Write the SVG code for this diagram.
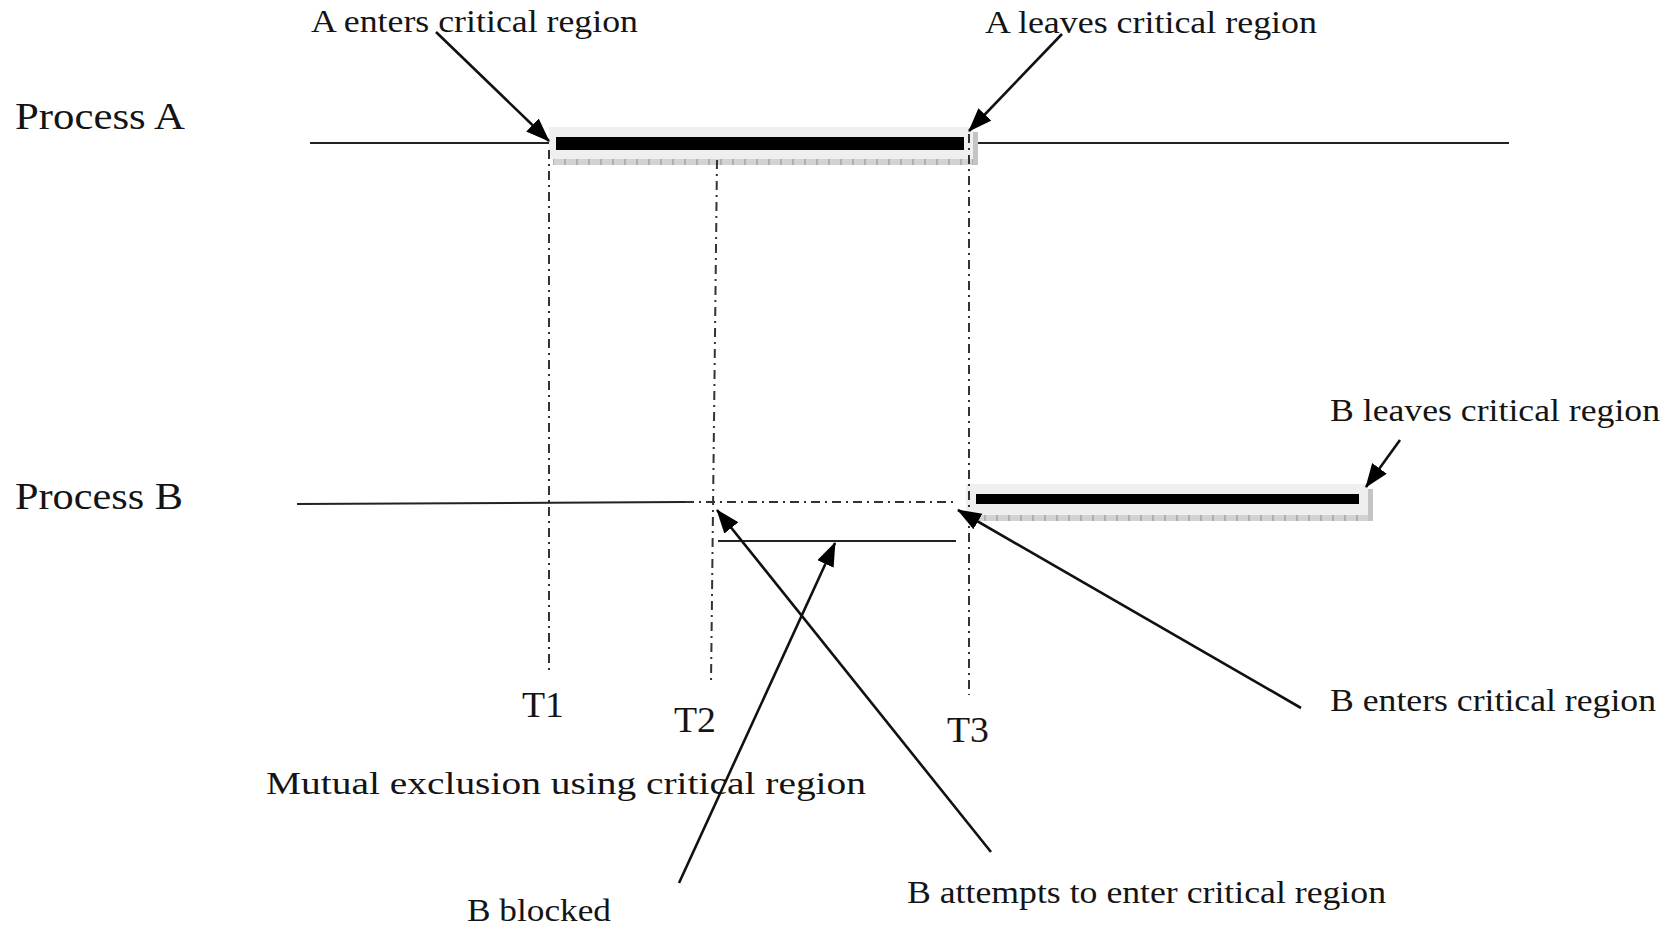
<svg xmlns="http://www.w3.org/2000/svg" width="1676" height="927" viewBox="0 0 1676 927">
  <style>
    text { font-family: "Liberation Serif", "Times New Roman", serif; fill: #141414; }
    .lbl { font-size: 31px; }
    .proc { font-size: 38px; }
    .tick { font-size: 35px; }
    .axis { stroke: #222; stroke-width: 2; fill: none; }
    .guide { stroke: #333; stroke-width: 2; fill: none; stroke-dasharray: 9 5 2 5; }
    .arrow { stroke: #111; stroke-width: 2.6; fill: none; marker-end: url(#head); }
    .panel { fill: #efefef; }
    .shade { fill: url(#hatch); }
    .bar { fill: #000; }
  </style>
  <defs>
    <marker id="head" markerUnits="userSpaceOnUse" markerWidth="26" markerHeight="20" refX="23" refY="9" orient="auto">
      <path d="M0,0 L24,9 L0,18 Z" fill="#000"/>
    </marker>
    <pattern id="hatch" patternUnits="userSpaceOnUse" width="12" height="12">
      <rect width="12" height="12" fill="#d2d2d2"/>
      <rect x="0" y="0" width="2" height="12" fill="#b0b0b0"/>
    </pattern>
  </defs>

  <!-- timelines -->
  <g id="timeline-a">
    <line class="axis" x1="310" y1="143" x2="549" y2="143"/>
    <line class="axis" x1="966" y1="143" x2="1509" y2="143"/>
    <text class="proc" x="15" y="129" textLength="170" lengthAdjust="spacingAndGlyphs">Process A</text>
  </g>
  <g id="timeline-b">
    <line class="axis" x1="297" y1="504" x2="685" y2="502"/>
    <line class="guide" x1="685" y1="502" x2="958" y2="502"/>
    <line class="axis" x1="718" y1="541" x2="956" y2="541"/>
    <text class="proc" x="15" y="509" textLength="168" lengthAdjust="spacingAndGlyphs">Process B</text>
  </g>

  <!-- critical region of A -->
  <g id="region-a">
    <rect class="panel" x="549" y="127" width="424" height="32"/>
    <rect class="shade" x="553" y="159" width="425" height="6"/>
    <rect fill="#c4c4c4" x="973" y="132" width="5" height="33"/>
    <rect class="bar" x="556" y="137" width="408" height="13"/>
  </g>

  <!-- critical region of B -->
  <g id="region-b">
    <rect class="panel" x="966" y="484" width="402" height="32"/>
    <rect class="shade" x="970" y="515" width="403" height="6"/>
    <rect fill="#c4c4c4" x="1368" y="489" width="5" height="32"/>
    <rect class="bar" x="976" y="494" width="383" height="10"/>
  </g>

  <!-- time markers -->
  <g id="t1">
    <line class="guide" x1="549" y1="150" x2="549" y2="675"/>
    <text class="tick" x="522" y="717" textLength="42" lengthAdjust="spacingAndGlyphs">T1</text>
  </g>
  <g id="t2">
    <line class="guide" x1="717" y1="160" x2="711" y2="684"/>
    <text class="tick" x="674" y="732" textLength="42" lengthAdjust="spacingAndGlyphs">T2</text>
  </g>
  <g id="t3">
    <line class="guide" x1="969" y1="134" x2="969" y2="695"/>
    <text class="tick" x="947" y="742" textLength="42" lengthAdjust="spacingAndGlyphs">T3</text>
  </g>

  <!-- event labels -->
  <g id="a-enters"><text class="lbl" x="311" y="32" textLength="327" lengthAdjust="spacingAndGlyphs">A enters critical region</text></g>
  <g id="a-leaves"><text class="lbl" x="985" y="33" textLength="332" lengthAdjust="spacingAndGlyphs">A leaves critical region</text></g>
  <g id="b-leaves"><text class="lbl" x="1330" y="421" textLength="330" lengthAdjust="spacingAndGlyphs">B leaves critical region</text></g>
  <g id="b-enters"><text class="lbl" x="1330" y="711" textLength="326" lengthAdjust="spacingAndGlyphs">B enters critical region</text></g>
  <g id="b-attempts"><text class="lbl" x="907" y="903" textLength="479" lengthAdjust="spacingAndGlyphs">B attempts to enter critical region</text></g>
  <g id="b-blocked"><text class="lbl" x="467" y="921" textLength="144" lengthAdjust="spacingAndGlyphs">B blocked</text></g>
  <g id="caption"><text class="lbl" x="266" y="794" textLength="600" lengthAdjust="spacingAndGlyphs">Mutual exclusion using critical region</text></g>

  <!-- connectors -->
  <g id="connectors">
    <line class="arrow" x1="436" y1="32" x2="549" y2="141"/>
    <line class="arrow" x1="1062" y1="34" x2="969" y2="131"/>
    <line class="arrow" x1="1400" y1="440" x2="1366" y2="487"/>
    <line class="arrow" x1="1301" y1="708" x2="958" y2="510"/>
    <line class="arrow" x1="991" y1="852" x2="717" y2="510"/>
    <line class="arrow" x1="679" y1="883" x2="835" y2="543"/>
  </g>
</svg>
